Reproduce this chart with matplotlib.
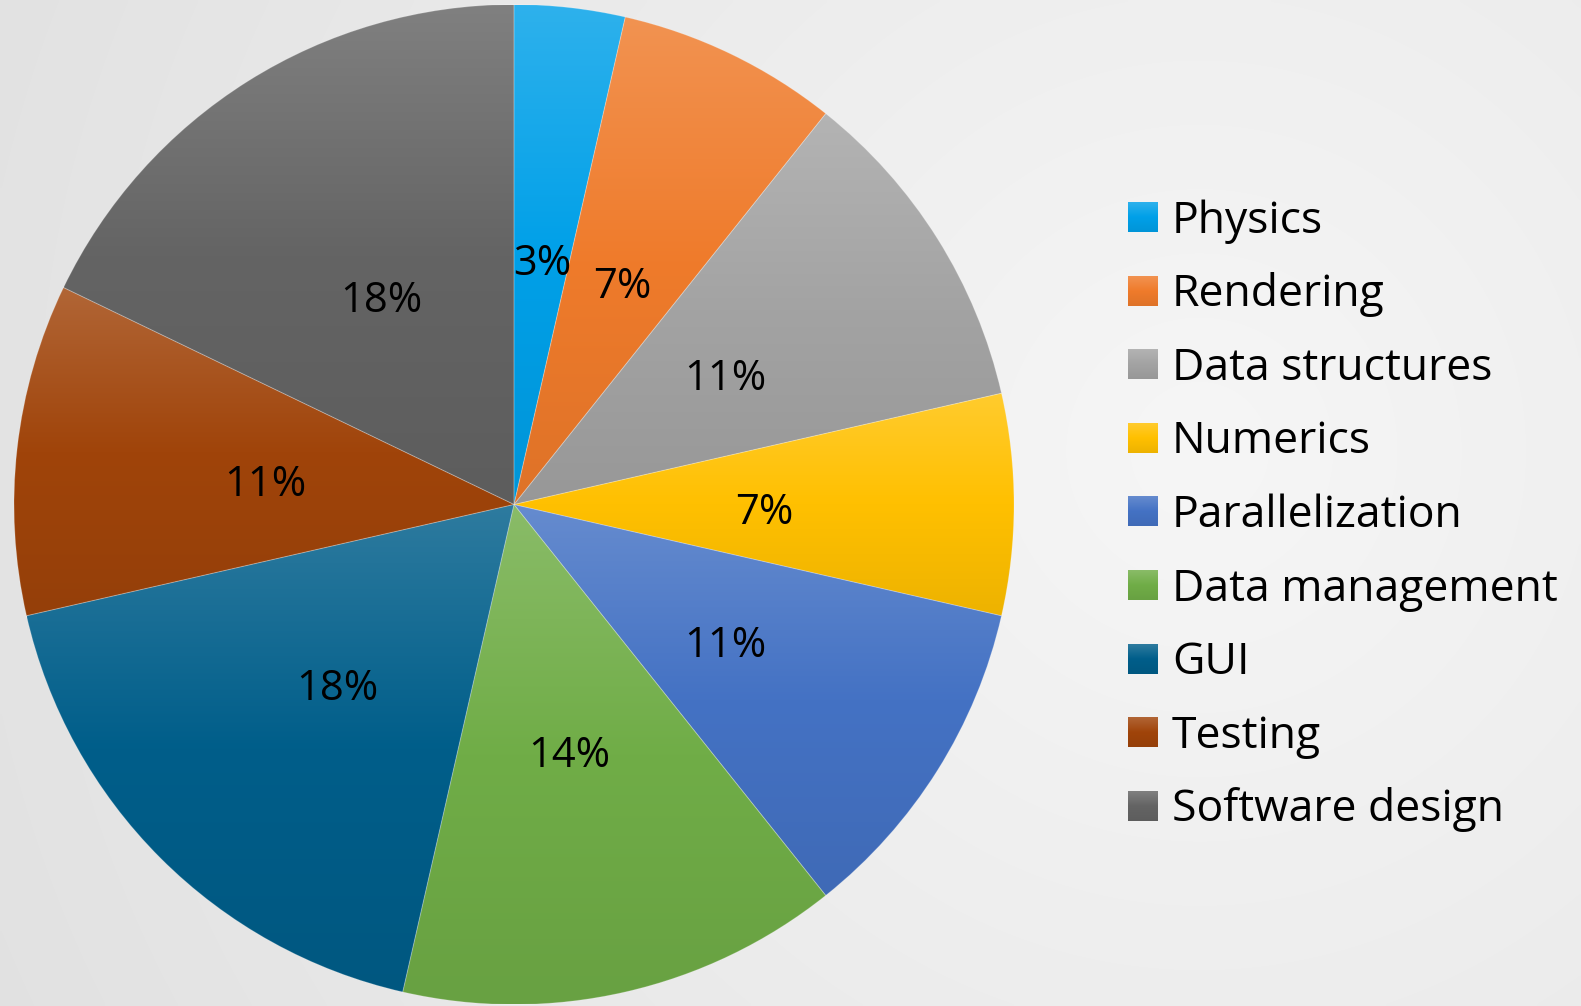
import numpy as np
import matplotlib.pyplot as plt
from matplotlib.colors import to_rgb

plt.rcParams['font.family'] = ['Open Sans', 'DejaVu Sans']

topics = ['Physics', 'Rendering', 'Data structures', 'Numerics', 'Parallelization',
          'Data management', 'GUI', 'Testing', 'Software design']
counts = [1, 2, 3, 2, 3, 4, 5, 3, 5]
pct_labels = ['3%', '7%', '11%', '7%', '11%', '14%', '18%', '11%', '18%']
colors = ['#00A0E8', '#EF7B2B', '#A3A3A3', '#FFC000', '#4472C4',
          '#70AD47', '#005E8A', '#A0440A', '#646464']

W, H = 1581, 1006


def gradient(color, n=256):
    # light tint at the top, base colour in the middle, a bit darker at the bottom
    base = np.array(to_rgb(color))
    top = base + (1 - base) * 0.18
    bottom = base * 0.93
    t = np.linspace(0, 1, n)[:, None]
    upper = top + (base - top) * np.clip(t / 0.5, 0, 1)
    lower = base + (bottom - base) * np.clip((t - 0.5) / 0.5, 0, 1)
    g = np.where(t < 0.5, upper, lower)
    return g[:, None, :]


fig = plt.figure(figsize=(W / 100, H / 100), dpi=100)
ax = fig.add_axes([0, 0, 1, 1])

# radial background
yy, xx = np.mgrid[0:H:4, 0:W:4]
d = np.hypot(xx - 1200, yy - 450) / 1281
val = np.clip(0.965 - 0.078 * d, 0, 1)
bg = np.dstack([val, val, val])
ax.imshow(bg, extent=[0, W, 0, H], origin='upper', aspect='auto',
          interpolation='bilinear', zorder=0)

it = iter(pct_labels)
wedges, texts, autotexts = ax.pie(
    counts, colors=colors, startangle=90, counterclock=False,
    center=(514, H - 504.5), radius=500,
    autopct=lambda p: next(it), pctdistance=0.5,
    textprops=dict(fontsize=30, color='black'),
    wedgeprops=dict(edgecolor=(1, 1, 1, 0.2), linewidth=0.7))

for t in autotexts:
    x, y = t.get_position()
    t.set_position((x, y - 8))

for w, c in zip(wedges, colors):
    bb = w.get_path().get_extents()
    im = ax.imshow(gradient(c), extent=[bb.x0, bb.x1, bb.y0, bb.y1],
                   aspect='auto', interpolation='bilinear', zorder=0.5)
    im.set_clip_path(w)
    w.set_facecolor('none')
    w.set_zorder(1)

# legend
for i, (name, c) in enumerate(zip(topics, colors)):
    top = 202 + i * 73.6
    ax.imshow(gradient(c), extent=[1128, 1158, H - top - 30, H - top],
              aspect='auto', interpolation='bilinear', zorder=2)
    ax.text(1172, H - top - 30.5, name, fontsize=32, va='baseline', ha='left')

ax.set_xlim(0, W)
ax.set_ylim(0, H)
ax.set_aspect('auto')
ax.axis('off')

fig.savefig('out.png', dpi=100)
